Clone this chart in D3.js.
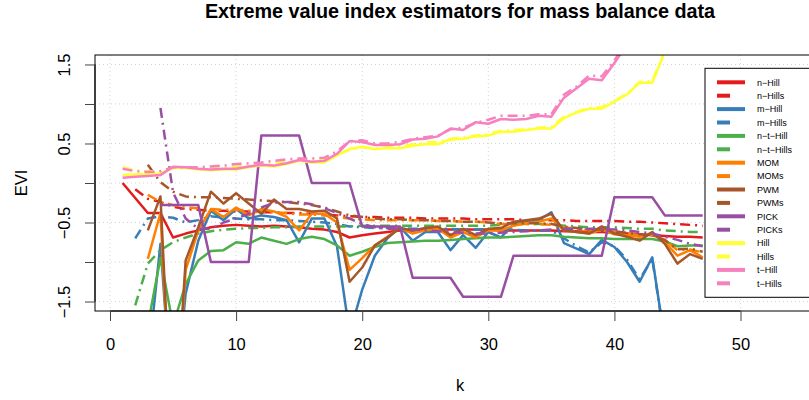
<!DOCTYPE html>
<html>
<head>
<meta charset="utf-8">
<script src="https://cdn.jsdelivr.net/npm/d3@7"></script>
<style>
  body { margin: 0; background: #fff; }
  text { font-family: "Liberation Sans", Arial, Helvetica, sans-serif; }
</style>
</head>
<body>
<svg id="chart" width="809" height="400"></svg>
<script>
// estimator names, colours (RColorBrewer Set1) and the first k of each series
const names = ['n−Hill', 'n−Hills', 'm−Hill', 'm−Hills', 'n−t−Hill', 'n−t−Hills', 'MOM', 'MOMs',
  'PWM', 'PWMs', 'PICK', 'PICKs', 'Hill', 'Hills', 't−Hill', 't−Hills'];
const colors = ['#E41A1C', '#E41A1C', '#377EB8', '#377EB8', '#4DAF4A', '#4DAF4A', '#FF7F00', '#FF7F00',
  '#A65628', '#A65628', '#984EA3', '#984EA3', '#FFFF33', '#FFFF33', '#F781BF', '#F781BF'];
const startK = [1, 2, 3, 2, 3, 2, 3, 3, 3, 3, 4, 4, 1, 1, 1, 1];

const nHill = [0.00, -0.19, -0.38, -0.38, -0.69, -0.64, -0.60, -0.56, -0.54, -0.53, -0.54, -0.55, -0.54, -0.55,
  -0.56, -0.58, -0.59, -0.62, -0.69, -0.66, -0.64, -0.62, -0.60, -0.60, -0.59, -0.59, -0.59, -0.59, -0.59, -0.59,
  -0.60, -0.60, -0.60, -0.60, -0.60, -0.61, -0.61, -0.62, -0.62, -0.63, -0.64, -0.65, -0.66, -0.67, -0.68, -0.68, -0.69];
const nHills = [-0.08, -0.20, -0.24, -0.30, -0.33, -0.34, -0.35, -0.35, -0.36, -0.36, -0.37, -0.37, -0.38, -0.38,
  -0.39, -0.40, -0.41, -0.42, -0.43, -0.43, -0.44, -0.44, -0.44, -0.45, -0.45, -0.45, -0.45, -0.46, -0.46, -0.46,
  -0.46, -0.47, -0.47, -0.47, -0.47, -0.48, -0.48, -0.48, -0.48, -0.49, -0.49, -0.50, -0.51, -0.52, -0.53, -0.54];
const mHill = [-2.3, -0.77, -3.0, -1.4, -0.73, -0.35, -0.47, -0.33, -0.45, -0.41, -0.43, -0.47, -0.75, -0.45,
  -0.45, -0.80, -1.9, -1.35, -0.92, -0.70, -0.56, -0.73, -0.62, -0.62, -0.85, -0.66, -0.82, -0.62, -0.69, -0.52,
  -0.48, -0.47, -0.37, -0.76, -0.83, -0.90, -0.72, -0.81, -1.00, -1.25, -0.94, -2.0];
const mHills = [-0.70, -0.45, -0.42, -0.44, -0.50, -0.47, -0.42, -0.44, -0.45, -0.46, -0.46, -0.47, -0.47, -0.48,
  -0.49, -0.50, -0.52, -0.55, -0.56, -0.57, -0.57, -0.57, -0.58, -0.58, -0.58, -0.58, -0.59, -0.59, -0.59, -0.59,
  -0.59, -0.60, -0.60, -0.60, -0.70, -0.80, -0.88, -0.75, -0.80, -0.97, -1.22, -0.96, -2.0];
const ntHill = [-1.8, -0.95, -1.8, -1.28, -0.98, -0.86, -0.85, -0.75, -0.77, -0.69, -0.73, -0.77, -0.71, -0.68,
  -0.71, -0.79, -0.92, -0.87, -0.81, -0.76, -0.75, -0.74, -0.73, -0.73, -0.72, -0.71, -0.70, -0.69, -0.69, -0.68,
  -0.67, -0.66, -0.66, -0.68, -0.69, -0.70, -0.70, -0.71, -0.71, -0.71, -0.71, -0.74, -0.80, -0.79, -0.79];
const ntHills = [-1.55, -1.02, -0.85, -0.75, -0.69, -0.64, -0.61, -0.59, -0.58, -0.57, -0.57, -0.56, -0.56, -0.55,
  -0.55, -0.55, -0.55, -0.55, -0.54, -0.54, -0.54, -0.54, -0.54, -0.54, -0.54, -0.54, -0.54, -0.54, -0.54, -0.53,
  -0.52, -0.52, -0.52, -0.52, -0.54, -0.55, -0.56, -0.56, -0.56, -0.57, -0.58, -0.58, -0.60, -0.61, -0.62, -0.62];
const mom = [-0.96, -0.38, -3.5, -1.1, -0.60, -0.33, -0.43, -0.31, -0.41, -0.33, -0.36, -0.43, -0.60, -0.39,
  -0.39, -0.50, -1.10, -0.95, -0.79, -0.68, -0.57, -0.64, -0.60, -0.58, -0.69, -0.62, -0.69, -0.60, -0.60, -0.54,
  -0.51, -0.49, -0.45, -0.60, -0.62, -0.64, -0.59, -0.65, -0.66, -0.68, -0.63, -0.75, -0.92, -0.85, -0.94];
const moms = [-0.15, -0.24, -0.28, -0.31, -0.32, -0.33, -0.34, -0.34, -0.35, -0.36, -0.37, -0.38, -0.40, -0.40,
  -0.41, -0.43, -0.45, -0.46, -0.47, -0.47, -0.47, -0.47, -0.47, -0.48, -0.48, -0.49, -0.49, -0.50, -0.52, -0.52,
  -0.52, -0.52, -0.53, -0.56, -0.58, -0.60, -0.60, -0.62, -0.64, -0.66, -0.66, -0.72, -0.85, -0.84, -0.88];
const pwm = [-0.60, -0.17, -3.5, -0.98, -0.56, -0.11, -0.26, -0.13, -0.26, -0.39, -0.21, -0.33, -0.33, -0.36,
  -0.35, -0.45, -1.25, -1.07, -0.79, -0.69, -0.57, -0.60, -0.57, -0.55, -0.66, -0.58, -0.66, -0.58, -0.57, -0.49,
  -0.47, -0.45, -0.39, -0.60, -0.62, -0.64, -0.55, -0.64, -0.68, -0.73, -0.62, -0.77, -1.02, -0.90, -0.96];
const pwms = [0.23, 0.01, -0.11, -0.17, -0.18, -0.18, -0.19, -0.20, -0.21, -0.22, -0.23, -0.24, -0.26, -0.28,
  -0.31, -0.36, -0.41, -0.43, -0.45, -0.46, -0.46, -0.47, -0.47, -0.48, -0.48, -0.49, -0.49, -0.50, -0.51, -0.51,
  -0.51, -0.51, -0.52, -0.55, -0.57, -0.59, -0.59, -0.61, -0.63, -0.65, -0.66, -0.72, -0.84, -0.83, -0.87];
const pick = [-0.28, -0.28, -0.28, -0.28, -1.0, -1.0, -1.0, -1.0, 0.6, 0.6, 0.6, 0.6, 0.0, 0.0, 0.0, 0.0,
  -0.55, -0.55, -0.55, -0.55, -1.20, -1.20, -1.20, -1.20, -1.44, -1.44, -1.44, -1.44,
  -0.92, -0.92, -0.92, -0.92, -0.92, -0.92, -0.92, -0.92, -0.18, -0.18, -0.18, -0.18, -0.41, -0.41, -0.41, -0.41];
const picks = [0.95, -0.12, -0.45, -0.58, -0.58, -0.50, -0.45, -0.39, -0.31, -0.25, -0.24, -0.24, -0.27, -0.32,
  -0.38, -0.45, -0.52, -0.56, -0.58, -0.58, -0.59, -0.60, -0.61, -0.62, -0.63, -0.64, -0.64, -0.63, -0.62, -0.61,
  -0.60, -0.59, -0.58, -0.58, -0.58, -0.58, -0.59, -0.60, -0.62, -0.64, -0.68, -0.72, -0.77, -0.80];
const hill = [0.10, 0.11, 0.11, 0.12, 0.19, 0.19, 0.17, 0.16, 0.17, 0.17, 0.20, 0.22, 0.21, 0.24, 0.28, 0.26,
  0.26, 0.35, 0.43, 0.46, 0.43, 0.44, 0.44, 0.47, 0.49, 0.49, 0.55, 0.56, 0.59, 0.60, 0.65, 0.65, 0.67, 0.69,
  0.69, 0.82, 0.89, 0.94, 0.94, 1.03, 1.12, 1.27, 1.27, 1.66];
const hills = [0.20, 0.16, 0.15, 0.15, 0.19, 0.20, 0.19, 0.19, 0.20, 0.21, 0.22, 0.24, 0.25, 0.27, 0.29, 0.29,
  0.30, 0.36, 0.42, 0.45, 0.44, 0.45, 0.46, 0.49, 0.51, 0.52, 0.56, 0.58, 0.60, 0.62, 0.66, 0.67, 0.68, 0.70,
  0.71, 0.84, 0.90, 0.95, 0.96, 1.04, 1.13, 1.28, 1.29, 1.68];
const tHill = [0.065, 0.08, 0.09, 0.10, 0.205, 0.20, 0.18, 0.17, 0.18, 0.18, 0.21, 0.23, 0.22, 0.25, 0.29, 0.27,
  0.28, 0.37, 0.53, 0.52, 0.48, 0.48, 0.49, 0.55, 0.56, 0.59, 0.69, 0.67, 0.77, 0.75, 0.81, 0.80, 0.81, 0.85,
  0.84, 1.08, 1.20, 1.32, 1.30, 1.52, 1.75];
const tHills = [0.18, 0.15, 0.14, 0.15, 0.20, 0.20, 0.20, 0.21, 0.22, 0.24, 0.25, 0.26, 0.28, 0.30, 0.31, 0.31,
  0.32, 0.40, 0.53, 0.54, 0.50, 0.50, 0.52, 0.56, 0.58, 0.60, 0.68, 0.70, 0.76, 0.80, 0.85, 0.85, 0.85, 0.87,
  0.87, 1.12, 1.22, 1.36, 1.35, 1.55, 1.80];

const values = [nHill, nHills, mHill, mHills, ntHill, ntHills, mom, moms, pwm, pwms, pick, picks, hill, hills, tHill, tHills];

const xTicks = [0, 10, 20, 30, 40, 50];
const yTicks = [-1.5, -1, -0.5, 0, 0.5, 1, 1.5];
const yLabels = [-1.5, -0.5, 0.5, 1.5];

const svg = d3.select('#chart');
const plot = { left: 95, right: 825, top: 55, bottom: 311 };

const x = d3.scaleLinear().domain([-1.19, 56.7]).range([plot.left, plot.right]);
const y = d3.scaleLinear().domain([-1.62, 1.62]).range([plot.bottom, plot.top]);

svg.append('rect').attr('width', 809).attr('height', 400).attr('fill', '#fff');

svg.append('defs').append('clipPath').attr('id', 'clip')
  .append('rect')
  .attr('x', plot.left).attr('y', plot.top)
  .attr('width', plot.right - plot.left).attr('height', plot.bottom - plot.top);

// dotted grid
const grid = svg.append('g').attr('stroke', '#d3d3d3').attr('stroke-width', 1).attr('stroke-dasharray', '1,3');
grid.selectAll('.gx').data(xTicks).join('line')
  .attr('x1', d => x(d)).attr('x2', d => x(d))
  .attr('y1', plot.top).attr('y2', plot.bottom);
grid.selectAll('.gy').data(yTicks).join('line')
  .attr('x1', plot.left).attr('x2', plot.right)
  .attr('y1', d => y(d)).attr('y2', d => y(d));

// estimator lines
const line = d3.line()
  .x(d => x(d.k))
  .y(d => y(d.v));

const lines = svg.append('g').attr('clip-path', 'url(#clip)');
values.forEach((vals, i) => {
  const pts = vals.map((v, j) => ({ k: startK[i] + j, v: v }));
  lines.append('path')
    .datum(pts)
    .attr('d', line)
    .attr('fill', 'none')
    .attr('stroke', colors[i])
    .attr('stroke-width', 2.5)
    .attr('stroke-linejoin', 'round')
    .attr('stroke-dasharray', i % 2 === 1 ? '10,5,2,5' : null);
});

// plot box
svg.append('rect')
  .attr('x', plot.left).attr('y', plot.top)
  .attr('width', plot.right - plot.left).attr('height', plot.bottom - plot.top)
  .attr('fill', 'none').attr('stroke', '#000').attr('stroke-width', 1);

// x axis
const xAxis = svg.append('g')
  .attr('transform', `translate(0,${plot.bottom})`)
  .call(d3.axisBottom(x).tickValues(xTicks).tickSize(10).tickFormat(d3.format('d')));
xAxis.select('.domain').attr('d', `M${x(0)},0H${x(50)}`);
xAxis.selectAll('.tick line').attr('stroke', '#444');
xAxis.selectAll('.tick text')
  .attr('y', 39).attr('dy', null)
  .style('font-size', '16.5px')
  .attr('fill', '#000');

// y axis
const yAxis = svg.append('g')
  .attr('transform', `translate(${plot.left},0)`)
  .call(d3.axisLeft(y).tickValues(yTicks).tickSize(10)
    .tickFormat(d => yLabels.includes(d) ? d3.format('.1f')(d).replace('-', '−') : ''));
yAxis.select('.domain').attr('d', `M0,${y(-1.5)}V${y(1.5)}`);
yAxis.selectAll('.tick line').attr('stroke', '#444');
yAxis.selectAll('.tick text')
  .attr('transform', 'rotate(-90)')
  .attr('x', 0).attr('y', -25).attr('dy', null)
  .attr('text-anchor', 'middle')
  .style('font-size', '16.5px')
  .attr('fill', '#000');

// titles
svg.append('text')
  .attr('x', 460).attr('y', 17.5)
  .attr('text-anchor', 'middle')
  .style('font-size', '19.8px')
  .style('font-weight', 'bold')
  .text('Extreme value index estimators for mass balance data');

svg.append('text')
  .attr('x', 460).attr('y', 391)
  .attr('text-anchor', 'middle')
  .style('font-size', '16.5px')
  .text('k');

svg.append('text')
  .attr('transform', `translate(27,${(plot.top + plot.bottom) / 2}) rotate(-90)`)
  .attr('text-anchor', 'middle')
  .style('font-size', '16.5px')
  .text('EVI');

// legend
const legend = svg.append('g');
legend.append('rect')
  .attr('x', 705).attr('y', 68.3)
  .attr('width', 130).attr('height', 229)
  .attr('fill', '#fff').attr('stroke', '#000').attr('stroke-width', 1);

names.forEach((name, i) => {
  const ly = 82.3 + i * 13.4;
  const dashed = i % 2 === 1;
  legend.append('line')
    .attr('x1', 717).attr('x2', dashed ? 730 : 745)
    .attr('y1', ly).attr('y2', ly)
    .attr('stroke', colors[i])
    .attr('stroke-width', 4);
  legend.append('text')
    .attr('x', 757).attr('y', ly + 3.2)
    .style('font-size', '9px')
    .text(name);
});
</script>
</body>
</html>
